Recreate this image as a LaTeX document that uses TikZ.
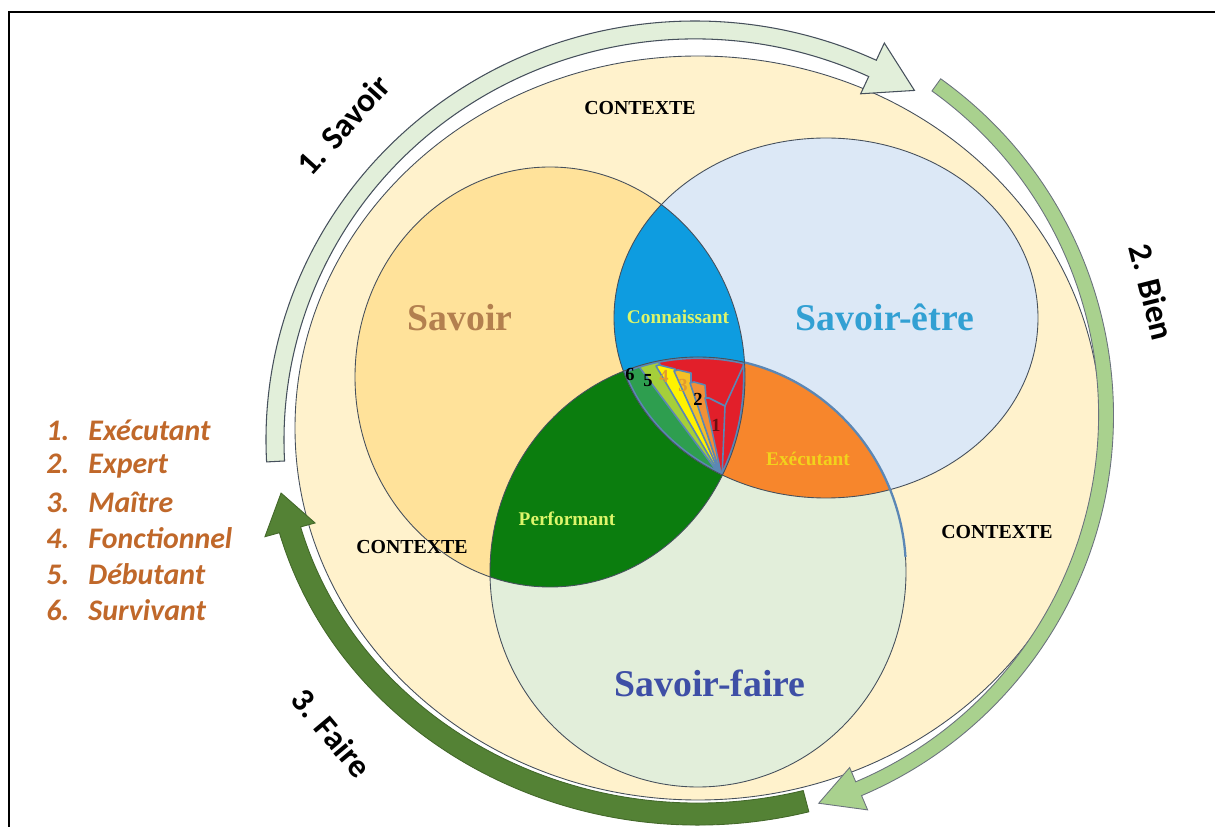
\documentclass[tikz,border=0pt]{standalone}
\usepackage{fontspec}
\setmainfont{Liberation Serif}
\newfontfamily\cyclefont{Carlito}
\usetikzlibrary{calc}

\definecolor{creamfill}{HTML}{FFF2CC}
\definecolor{savoirfill}{HTML}{FFE29A}
\definecolor{etrefill}{HTML}{DCE8F6}
\definecolor{fairefill}{HTML}{E2EEDA}
\definecolor{connfill}{HTML}{0E9CE0}
\definecolor{perffill}{HTML}{0B7D0E}
\definecolor{execfill}{HTML}{F7862C}
\definecolor{fanred}{HTML}{E21F2A}
\definecolor{steelblue}{HTML}{5B87B5}
\definecolor{rimgray}{HTML}{46505C}
\definecolor{paleband}{HTML}{E2EFDA}
\definecolor{midband}{HTML}{A9D18E}
\definecolor{darkband}{HTML}{548235}
\definecolor{listbrown}{HTML}{C0682A}
\definecolor{savoirtext}{HTML}{B3804F}
\definecolor{etretext}{HTML}{32A0D3}
\definecolor{fairetext}{HTML}{3E4FA6}
\definecolor{lenstext}{HTML}{DDF56B}
\definecolor{exectext}{HTML}{F2D21C}
\definecolor{numgold}{HTML}{E39A2E}

\newcommand{\savoirpath}{(550,377) ellipse [x radius=195, y radius=210]}
\newcommand{\etrepath}{(826,318) ellipse [x radius=212, y radius=180]}
\newcommand{\fairepath}{(698,572) ellipse [x radius=208, y radius=215]}

\tikzset{
  rim/.style={draw=rimgray, line width=0.5pt},
  bigname/.style={font=\bfseries\fontsize{21.5}{24}\selectfont},
  lensname/.style={font=\bfseries\fontsize{11}{13}\selectfont, text=lenstext},
  contexte/.style={font=\bfseries\fontsize{11.3}{13}\selectfont},
  cyclename/.style={font=\cyclefont\bfseries\fontsize{19}{22}\selectfont},
  fannum/.style={font=\bfseries\fontsize{10.5}{12}\selectfont, inner sep=0pt},
  listitem/.style={font=\cyclefont\bfseries\itshape\fontsize{17}{20}\selectfont, text=listbrown, anchor=west, inner sep=0pt},
  wedge/.style={draw=steelblue, line width=0.9pt, line join=round},
}

\begin{document}
\begin{tikzpicture}[x=0.02cm, y=-0.02cm]
  \useasboundingbox (0,0) rectangle (1215,827);

  \coordinate (ring1) at (695,440);
  \coordinate (ring2) at (700,415);
  \coordinate (ring3) at (698,428);

  \path[fill=creamfill, rim] (ring3) ellipse [x radius=403, y radius=372];

  \path[fill=paleband, draw=rimgray, line width=0.6pt]
    (ring1) ++(177:429 and 419) arc [start angle=177, end angle=295, x radius=429, y radius=419]
    -- ($(ring1)+(295:448 and 438)$) -- ($(ring1)+(301.5:420 and 410)$) -- ($(ring1)+(295:392 and 382)$)
    -- ($(ring1)+(295:411 and 401)$) arc [start angle=295, end angle=177, x radius=411, y radius=401] -- cycle;
  \path[fill=midband, draw=rimgray!80, line width=0.5pt]
    (ring2) ++(305.6:413.5) arc [start angle=305.6, end angle=427, radius=413.5]
    -- ($(ring2)+(427:429)$) -- ($(ring2)+(433:406)$) -- ($(ring2)+(427:383)$)
    -- ($(ring2)+(427:398.5)$) arc [start angle=427, end angle=305.6, radius=398.5] -- cycle;
  \path[fill=darkband, draw=darkband!80!black, line width=0.5pt]
    (ring3) ++(75.2:434 and 397) arc [start angle=75.2, end angle=164.7, x radius=434, y radius=397]
    -- ($(ring3)+(164.7:449 and 412)$) -- ($(ring3)+(170.3:423 and 386)$) -- ($(ring3)+(164.7:397 and 360)$)
    -- ($(ring3)+(164.7:412 and 375)$) arc [start angle=164.7, end angle=75.2, x radius=412, y radius=375] -- cycle;

  \fill[savoirfill] \savoirpath;
  \fill[etrefill] \etrepath;
  \fill[fairefill] \fairepath;
  \begin{scope}
    \clip \savoirpath;
    \fill[connfill] \etrepath;
    \fill[perffill] \fairepath;
  \end{scope}
  \begin{scope}
    \clip \etrepath;
    \fill[execfill] \fairepath;
  \end{scope}
  \begin{scope}
    \clip \savoirpath;
    \clip \etrepath;
    \clip \fairepath;
    \fill[fanred] (560,330) rectangle (780,500);
    \filldraw[wedge, fill={rgb,255:red,46;green,158;blue,79}] (722,478) -- (560,478) -- (560,330) -- (641,330) -- (641,367) -- cycle;
    \filldraw[wedge, fill={rgb,255:red,165;green,207;blue,58}] (722,478) -- (640,368) -- (643,362) -- (658,361) -- cycle;
    \filldraw[wedge, fill={rgb,255:red,255;green,242;blue,0}] (722,478) -- (656,366) -- (659,365) -- (675,369) -- cycle;
    \filldraw[wedge, fill={rgb,255:red,245;green,192;blue,38}] (722,478) -- (674,371) -- (678,370) -- (691,373) -- (691,383) -- cycle;
    \filldraw[wedge, fill={rgb,255:red,242;green,144;blue,54}] (722,478) -- (690,383) -- (694,382) -- (705,385) -- (706,398) -- cycle;
    \filldraw[wedge, fill=fanred] (722,478) -- (705,398) -- (709,398) -- (725,406) -- cycle;
    \draw[wedge] (725,406) -- (746,360);
    \draw[steelblue, line width=2.4pt] \savoirpath \etrepath \fairepath;
  \end{scope}

  \draw[rim] \savoirpath;
  \draw[rim] \etrepath;
  \draw[rim] \fairepath;
  \draw[steelblue, line width=1.3pt] (698,572) ++(283:208 and 215) arc [start angle=283, end angle=356, x radius=208, y radius=215];

  \node[fannum] (n6) at (630,374) {6};
  \node[fannum] (n5) at (648,381) {5};
  \node[fannum, text=numgold] (n4) at (664,376) {4};
  \node[fannum, text=numgold] (n3) at (683,385) {3};
  \node[fannum] (n2) at (698,399) {2};
  \node[fannum, text={rgb,255:red,107;green,15;blue,16}] (n1) at (716,425) {1};

  \node[bigname, text=savoirtext] (savoir) at (460,318) {Savoir};
  \node[bigname, text=etretext] (etre) at (885,317) {Savoir-être};
  \node[bigname, text=fairetext] (faire) at (710,683) {Savoir-faire};
  \node[lensname] (connaissant) at (678,317) {Connaissant};
  \node[lensname] (performant) at (567,519) {Performant};
  \node[lensname, text=exectext] (executant) at (808,459) {Exécutant};
  \node[contexte] (ctxtop) at (640,108) {CONTEXTE};
  \node[contexte] (ctxright) at (997,532) {CONTEXTE};
  \node[contexte] (ctxleft) at (412,547) {CONTEXTE};

  \node[cyclename, rotate=48] (cycle1) at (343,125) {1. Savoir};
  \node[cyclename, rotate=-76] (cycle2) at (1152,292) {2. Bien};
  \node[cyclename, rotate=-50] (cycle3) at (332,733) {3. Faire};

  \foreach \word [count=\i] in {Exécutant, Expert, Maître, Fonctionnel, Débutant, Survivant}
    \node[listitem] (level\i) at (46, {430+36*(\i-1)}) {\makebox[24pt][l]{\i.}\word};

  \draw[line width=1.7pt] (9,840) -- (9,12) -- (1225,12);
\end{tikzpicture}
\end{document}
